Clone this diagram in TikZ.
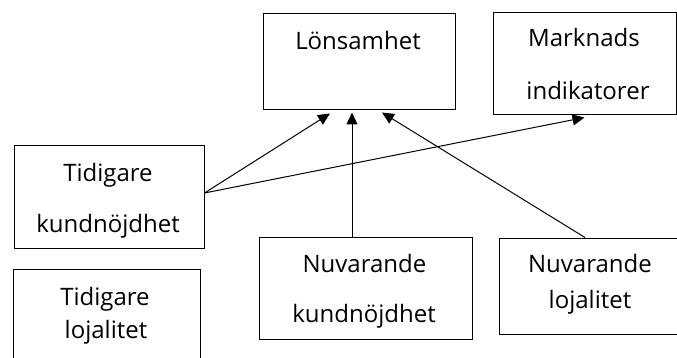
\documentclass[tikz,border=0pt]{standalone}
\usepackage{fontspec}
\setmainfont{Open Sans}
\usetikzlibrary{arrows.meta}
\begin{document}
\begin{tikzpicture}[x=1pt, y=-1pt,
    box/.style={rectangle, draw, line width=1pt, inner sep=0pt},
    lbl/.style={anchor=base, inner sep=0pt, font=\fontsize{24}{28}\selectfont},
    arrow/.style={-{Triangle[length=12pt, width=11pt]}, line width=1pt}
]
    \useasboundingbox (0,0) rectangle (677,358);

    % Top row: Lönsamhet and Marknads indikatorer
    \node[box, minimum width=192, minimum height=96] (lons) at (359,62) {};
    \node[lbl] (lonsA) at (358,50) {Lönsamhet};
    \node[box, minimum width=183, minimum height=102] (mark) at (584.5,64) {};
    \node[lbl] (markA) at (584,47) {Marknads};
    \node[lbl] (markB) at (588,100) {indikatorer};

    % Left column: earlier measures
    \node[box, minimum width=190, minimum height=102] (tkund) at (109,197) {};
    \node[lbl] (tkundA) at (108,182) {Tidigare};
    \node[lbl] (tkundB) at (108,232) {kundnöjdhet};
    \node[box, minimum width=187, minimum height=110] (tloj) at (106.5,324) {};
    \node[lbl] (tlojA) at (105,305) {Tidigare};
    \node[lbl] (tlojB) at (106,338) {lojalitet};

    % Bottom row: current measures
    \node[box, minimum width=213, minimum height=102] (nkund) at (365.5,288) {};
    \node[lbl] (nkundA) at (364.5,272) {Nuvarande};
    \node[lbl] (nkundB) at (364,322) {kundnöjdhet};
    \node[box, minimum width=178, minimum height=96] (nloj) at (588,286) {};
    \node[lbl] (nlojA) at (590,272) {Nuvarande};
    \node[lbl] (nlojB) at (590,308) {lojalitet};

    % Arrows
    \draw[arrow] ([yshift=4pt]tkund.east) -- ([xshift=-29pt, yshift=-3pt]lons.south);
    \draw[arrow] ([yshift=4pt]tkund.east) -- ([yshift=-2pt]mark.south);
    \draw[arrow] ([xshift=-13.5pt]nkund.north) -- ([xshift=-7pt, yshift=-2pt]lons.south);
    \draw[arrow] ([xshift=-3pt]nloj.north) -- ([xshift=23pt, yshift=-2pt]lons.south);
\end{tikzpicture}
\end{document}
